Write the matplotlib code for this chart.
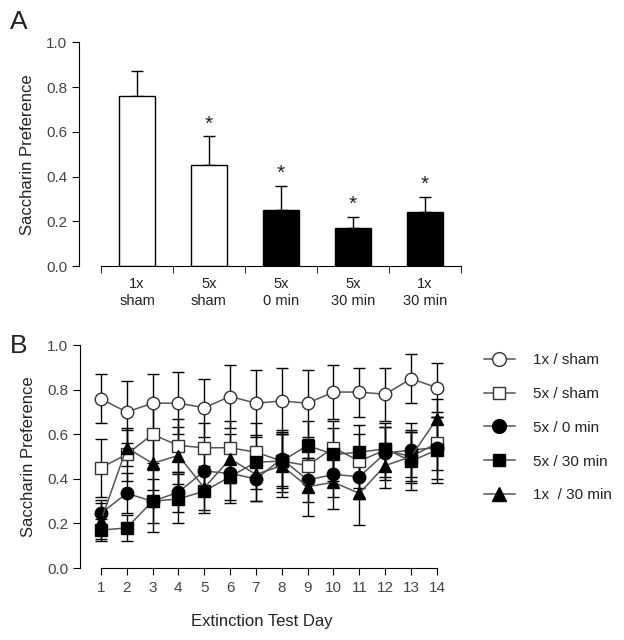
import numpy as np
import matplotlib
matplotlib.use("Agg")
import matplotlib.pyplot as plt

# panel A
groups = ["1x\nsham", "5x\nsham", "5x\n0 min", "5x\n30 min", "1x\n30 min"]
pref_a = [0.76, 0.45, 0.25, 0.17, 0.24]
sem_a = [0.11, 0.13, 0.11, 0.05, 0.07]
bar_colors = ["white", "white", "black", "black", "black"]
stars = [False, True, True, True, True]

# panel B
days = np.arange(1, 15)
series_names = ["1x / sham", "5x / sham", "5x / 0 min", "5x / 30 min", "1x  / 30 min"]
sham1 = [0.76, 0.70, 0.74, 0.74, 0.72, 0.77, 0.74, 0.75, 0.74, 0.79, 0.79, 0.78, 0.85, 0.81]
sham1_err = [0.11, 0.14, 0.13, 0.14, 0.13, 0.14, 0.15, 0.15, 0.15, 0.12, 0.11, 0.12, 0.11, 0.11]
sham5 = [0.45, 0.51, 0.60, 0.55, 0.54, 0.54, 0.52, 0.48, 0.46, 0.54, 0.48, 0.53, 0.50, 0.56]
sham5_err = [0.13, 0.12, 0.13, 0.12, 0.11, 0.12, 0.13, 0.12, 0.12, 0.12, 0.12, 0.12, 0.12, 0.12]
min0_5x = [0.245, 0.335, 0.30, 0.34, 0.435, 0.425, 0.40, 0.49, 0.395, 0.42, 0.41, 0.515, 0.53, 0.54]
min0_5x_err = [0.06, 0.09, 0.10, 0.09, 0.10, 0.12, 0.10, 0.12, 0.10, 0.10, 0.10, 0.12, 0.12, 0.14]
min30_5x = [0.17, 0.18, 0.30, 0.31, 0.345, 0.41, 0.475, 0.48, 0.55, 0.51, 0.52, 0.535, 0.48, 0.53]
min30_5x_err = [0.05, 0.06, 0.14, 0.11, 0.10, 0.12, 0.12, 0.14, 0.11, 0.12, 0.12, 0.10, 0.13, 0.15]
min30_1x = [0.21, 0.54, 0.47, 0.505, 0.36, 0.49, 0.42, 0.46, 0.365, 0.385, 0.335, 0.46, 0.50, 0.67]
min30_1x_err = [0.08, 0.08, 0.12, 0.13, 0.10, 0.11, 0.12, 0.14, 0.13, 0.12, 0.14, 0.10, 0.11, 0.09]

plt.rcParams['font.family'] = ['Liberation Sans', 'DejaVu Sans']
txt = '#222222'
tick_col = '#444444'

fig = plt.figure(figsize=(6.24, 6.4), dpi=100)

# ---------- A ----------
ax = fig.add_axes([0.1266, 0.584, 0.612, 0.35])
x = np.arange(len(groups))
ax.bar(x, pref_a, width=0.51, color=bar_colors, edgecolor='black', linewidth=1.0, zorder=2)
ax.errorbar(x, pref_a, yerr=[np.zeros(len(x)), sem_a], fmt='none', ecolor='black',
            elinewidth=1.0, capsize=4, capthick=1.0, zorder=1)
for i in range(len(x)):
    if stars[i]:
        ax.text(x[i], pref_a[i] + sem_a[i] + 0.03, "*", ha='center', va='baseline',
                fontsize=15, color=txt)
ax.set_xlim(-0.806, 4.5)
ax.set_ylim(0, 1.0)
ax.spines['top'].set_visible(False)
ax.spines['right'].set_visible(False)
ax.spines['bottom'].set_bounds(-0.5, 4.5)
ax.set_xticks(x)
ax.set_xticklabels(groups, fontsize=10.5, color=txt, linespacing=1.2)
ax.tick_params(axis='x', length=0, pad=8)
ax.set_xticks(np.arange(-0.5, 5, 1), minor=True)
ax.tick_params(axis='x', which='minor', length=5, direction='out')
ax.set_yticks([0, 0.2, 0.4, 0.6, 0.8, 1.0])
ax.set_yticklabels(["0.0", "0.2", "0.4", "0.6", "0.8", "1.0"], fontsize=11, color=tick_col)
ax.tick_params(axis='y', length=5)
ax.set_ylabel("Saccharin Preference", fontsize=12, color=txt, labelpad=8)
fig.text(0.016, 0.966, "A", fontsize=19, color=txt, va='center')

# ---------- B ----------
bx = fig.add_axes([0.128, 0.1125, 0.5846, 0.348])
specs = [
    (sham1, sham1_err, 'o', 'white'),
    (sham5, sham5_err, 's', 'white'),
    (min0_5x, min0_5x_err, 'o', 'black'),
    (min30_5x, min30_5x_err, 's', 'black'),
    (min30_1x, min30_1x_err, '^', 'black'),
]
handles = []
for k, (vals, errs, mk, fc) in enumerate(specs):
    bx.errorbar(days, vals, yerr=errs, fmt='none', ecolor='black', elinewidth=1.0,
                capsize=4, capthick=1.0, zorder=2, clip_on=False)
    h, = bx.plot(days, vals, color='#555555', linewidth=1.1, marker=mk,
                 markersize=9 if mk != 's' else 8.5,
                 markerfacecolor=fc, markeredgecolor='black' if fc == 'black' else '#333333',
                 markeredgewidth=1.0, zorder=3 + k, clip_on=False, label=series_names[k])
    handles.append(h)
bx.set_xlim(0.19, 14.3)
bx.set_ylim(0, 1.0)
bx.spines['top'].set_visible(False)
bx.spines['right'].set_visible(False)
bx.spines['bottom'].set_bounds(1, 14)
bx.set_xticks(days)
bx.set_xticklabels([str(d) for d in days], fontsize=11, color=tick_col)
bx.tick_params(axis='x', length=5, pad=4)
bx.set_yticks([0, 0.2, 0.4, 0.6, 0.8, 1.0])
bx.set_yticklabels(["0.0", "0.2", "0.4", "0.6", "0.8", "1.0"], fontsize=11, color=tick_col)
bx.tick_params(axis='y', length=5)
bx.set_ylabel("Saccharin Preference", fontsize=12, color=txt, labelpad=8)
bx.set_xlabel("Extinction Test Day", fontsize=12, color=txt, labelpad=14)
fig.text(0.016, 0.46, "B", fontsize=19, color=txt, va='center')

leg = fig.legend(handles=handles, loc='upper left', bbox_to_anchor=(0.766, 0.458),
                 frameon=False, fontsize=11, handlelength=2.0, handletextpad=1.2,
                 labelspacing=1.3, borderaxespad=0, markerscale=1.1)
for t in leg.get_texts():
    t.set_color(txt)

fig.savefig("out.png", dpi=100)
